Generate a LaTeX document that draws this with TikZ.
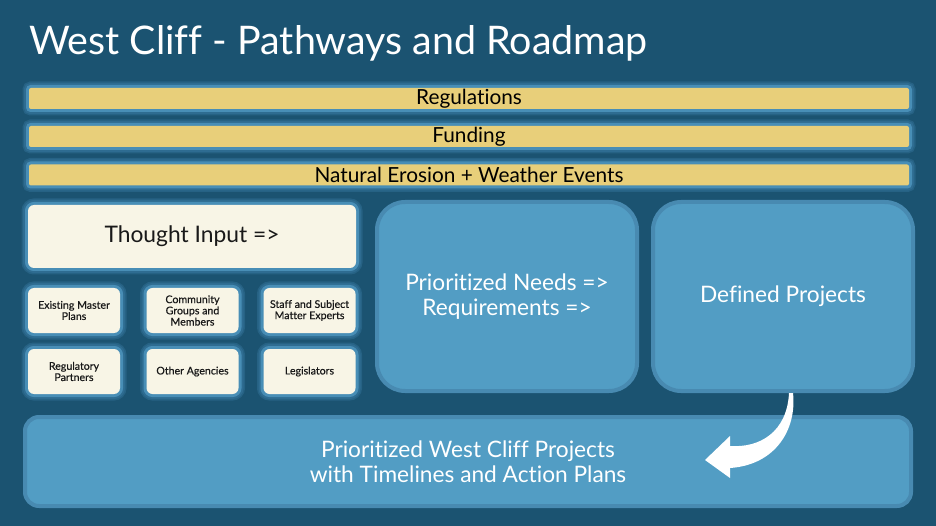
\documentclass[tikz,border=0pt]{standalone}
\usepackage{fontspec}
\setmainfont{Lato}[Ligatures=NoCommon]
\newfontfamily\smallfont[FakeBold=0.5,Ligatures=NoCommon]{Lato}
\usetikzlibrary{calc}
\definecolor{bgblue}{RGB}{27,83,113}
\definecolor{glowin}{RGB}{72,142,182}
\definecolor{glowout}{RGB}{46,108,145}
\definecolor{barfill}{RGB}{232,207,122}
\definecolor{creamfill}{RGB}{248,245,230}
\definecolor{boxfill}{RGB}{82,157,196}
\definecolor{boxedge}{RGB}{72,138,177}
\tikzset{
  glowed/.style={preaction={draw=glowout, draw opacity=0.6, line width=13pt}, preaction={draw=glowout, line width=10pt}, preaction={draw=glowin, line width=6pt}},
  barbox/.style={glowed, fill=barfill, rounded corners=2pt, minimum width=880pt, minimum height=21pt, inner sep=0pt, font=\fontsize{20.8}{23}\selectfont},
  inputbox/.style={glowed, fill=creamfill, rounded corners=6pt, inner sep=0pt, align=center, text=black!90},
  smallbox/.style={inputbox, minimum width=92pt, minimum height=45pt, font=\smallfont\fontsize{10.6}{11.2}\selectfont},
  stagebox/.style={draw=boxedge, line width=4pt, fill=boxfill, text=white, inner sep=0pt, align=center, font=\fontsize{22.7}{25}\selectfont}
}
\begin{document}
\begin{tikzpicture}[x=1pt, y=-1pt]
    \fill[bgblue] (0,0) rectangle (936,526);
    \useasboundingbox (0,0) rectangle (936,526);
    \node[anchor=base west, inner sep=0pt, text=white, font=\fontsize{39.4}{42}\selectfont] (title) at (29,55) {West Cliff - Pathways and Roadmap};
    \node[barbox] (regs) at (469,98.5) {Regulations};
    \node[barbox] (fund) at (469,136.5) {Funding};
    \node[barbox] (erosion) at (469,175) {Natural Erosion + Weather Events};
    \node[inputbox, minimum width=328pt, minimum height=63pt, font=\fontsize{22.8}{25}\selectfont] (thought) at (192,236.5) {Thought Input =>};
    \node[smallbox] (master) at (74,310.5) {Existing Master\\Plans};
    \node[smallbox] (community) at (192.5,310.5) {Community\\Groups and\\Members};
    \node[smallbox] (staff) at (309.5,310.5) {Staff and Subject\\Matter Experts};
    \node[smallbox] (partners) at (74,371.5) {Regulatory\\Partners};
    \node[smallbox] (agencies) at (192.5,371.5) {Other Agencies};
    \node[smallbox] (legis) at (309.5,371.5) {Legislators};
    \node[stagebox, rounded corners=28pt, minimum width=260pt, minimum height=189pt] (needs) at (507,296.5) {Prioritized Needs =>\\Requirements =>};
    \node[stagebox, rounded corners=28pt, minimum width=260pt, minimum height=189pt] (defined) at (783,296.5) {Defined Projects};
    \node[stagebox, rounded corners=14pt, minimum width=886pt, minimum height=89pt] (plans) at (468,461.5) {Prioritized West Cliff Projects\\with Timelines and Action Plans};
    \coordinate (tail) at ([xshift=8pt]defined.south);
    \coordinate (tip) at ($(tail)+(-86,67)$);
    \begin{scope}[shift={(tip)}]
        \fill[white] (0,0) -- (25,-24) -- (25,-14) .. controls (55,-12) and (82,-28) .. (84,-67) -- (88,-67) .. controls (92,-30) and (70,5) .. (25,8) -- (25,18) -- cycle;
    \end{scope}
\end{tikzpicture}
\end{document}
